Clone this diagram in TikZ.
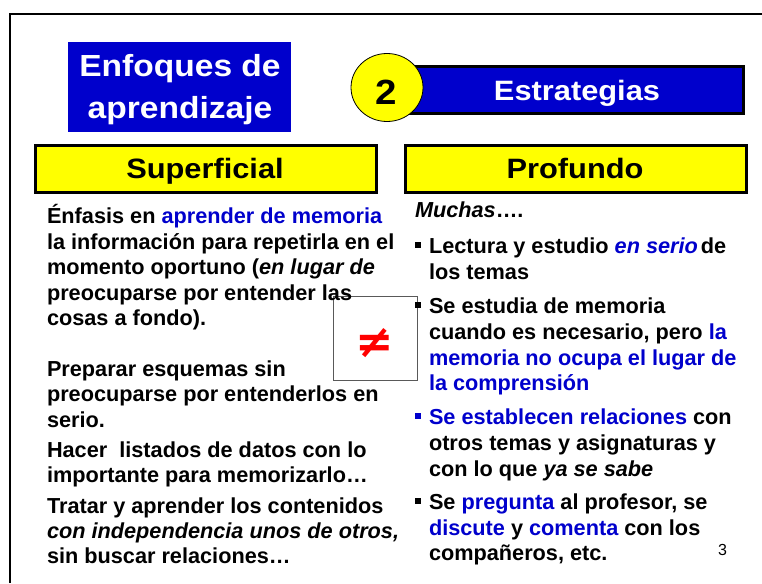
\documentclass[tikz,border=0pt]{standalone}
\usepackage{fontspec}
\setmainfont{Liberation Sans}
\newfontfamily\widefont[FakeStretch=1.1]{Liberation Sans}
\newfontfamily\symfont{DejaVu Sans}
\usetikzlibrary{shapes.geometric}
\definecolor{hlblue}{RGB}{0,0,204}
\definecolor{boxblue}{RGB}{0,0,204}
\definecolor{ylw}{RGB}{255,255,0}
\definecolor{neqred}{RGB}{255,0,0}
\newcommand{\hlb}[1]{\textcolor{hlblue}{#1}}
\begin{document}
\begin{tikzpicture}[x=1pt,y=-1pt,
  bodyline/.style={anchor=base west, inner sep=0pt, outer sep=0pt,
    font=\fontsize{21.7}{25}\selectfont\bfseries},
  titletext/.style={anchor=base, inner sep=0pt, outer sep=0pt, text=white,
    font=\widefont\fontsize{30.5}{38}\selectfont\bfseries},
  headbox/.style={draw=black, line width=3pt, fill=ylw, inner sep=0pt,
    minimum width=341pt, minimum height=47pt},
  headtext/.style={anchor=base, inner sep=0pt, font=\widefont\fontsize{28}{32}\selectfont\bfseries},
  bulletsq/.style={fill=black}
]
\useasboundingbox (0,0) rectangle (762,583);
% slide frame
\draw[line width=2pt] (10,583) -- (10,14) -- (762,14);

% title box
\node[fill=boxblue, inner sep=0pt, minimum width=223pt, minimum height=90pt] (enfbox) at (179.5,87) {};
\node[titletext] (enf1) at (180,77) {Enfoques de};
\node[titletext] (enf2) at (180,118) {aprendizaje};

% Estrategias
\node[draw=black, line width=3pt, fill=boxblue, inner sep=0pt,
  minimum width=334pt, minimum height=47pt] (estbox) at (576,90) {};
\node[titletext, font=\widefont\fontsize{28}{32}\selectfont\bfseries] (est) at (577,100) {Estrategias};
\node[ellipse, draw=black, line width=0.8pt, fill=ylw, inner sep=0pt,
  minimum width=72pt, minimum height=68pt] (circ) at (387,87.5) {};
\node[anchor=base, inner sep=0pt, font=\widefont\fontsize{35}{40}\selectfont\bfseries] (two) at (386.5,105) {2};

% heading boxes
\node[headbox] (supbox) at (205.5,168.5) {};
\node[headtext] (sup) at (205,178) {Superficial};
\node[headbox] (probox) at (575.5,168.5) {};
\node[headtext] (pro) at (575,178) {Profundo};

% not-equal box
\node[draw=black!65, line width=1pt, fill=white, inner sep=0pt,
  minimum width=84pt, minimum height=84pt] (neqbox) at (375,338) {};
\node[inner sep=0pt, text=neqred, font=\symfont\bfseries\fontsize{46}{50}\selectfont] (neq) at (375,343) {≠};

% left column
\node[bodyline] (l1) at (47,223) {Énfasis en \hlb{aprender de memoria}};
\node[bodyline] (l2) at (47,249) {la información para repetirla en el};
\node[bodyline] (l3) at (47,274) {momento oportuno (\textit{en lugar de}};
\node[bodyline] (l4) at (47,300) {preocuparse por entender las};
\node[bodyline] (l5) at (47,325) {cosas a fondo).};
\node[bodyline] (l6) at (47,376) {Preparar esquemas sin};
\node[bodyline] (l7) at (47,401) {preocuparse por entenderlos en};
\node[bodyline] (l8) at (47,427) {serio.};
\node[bodyline] (l9) at (47,457) {Hacer\ \ listados de datos con lo};
\node[bodyline] (l10) at (47,482) {importante para memorizarlo…};
\node[bodyline] (l11) at (47,513) {Tratar y aprender los contenidos};
\node[bodyline] (l12) at (47,538) {\textit{con independencia unos de otros,}};
\node[bodyline] (l13) at (47,563) {sin buscar relaciones…};

% right column
\node[bodyline] (r0) at (415,217) {\textit{Muchas}….};
\fill[bulletsq] (415,242) rectangle +(5.5,5.5);
\node[bodyline] (r1) at (429,253) {Lectura y estudio \textit{\hlb{en serio}}\hspace{3pt}de};
\node[bodyline] (r2) at (429,279) {los temas};
\fill[bulletsq] (415,302) rectangle +(5.5,5.5);
\node[bodyline] (r3) at (429,313) {Se estudia de memoria};
\node[bodyline] (r4) at (429,339) {cuando es necesario, pero \hlb{la}};
\node[bodyline] (r5) at (429,365) {\hlb{memoria no ocupa el lugar de}};
\node[bodyline] (r6) at (429,390) {\hlb{la comprensión}};
\fill[bulletsq, fill=hlblue] (415,413) rectangle +(5.5,5.5);
\node[bodyline] (r7) at (429,424) {\hlb{Se establecen relaciones} con};
\node[bodyline] (r8) at (429,450) {otros temas y asignaturas y};
\node[bodyline] (r9) at (429,476) {con lo que \textit{ya se sabe}};
\fill[bulletsq] (415,498) rectangle +(5.5,5.5);
\node[bodyline] (r10) at (429,509) {Se \hlb{pregunta} al profesor, se};
\node[bodyline] (r11) at (429,535) {\hlb{discute} y \hlb{comenta} con los};
\node[bodyline] (r12) at (429,560) {compañeros, etc.};

% page number
\node[anchor=base west, inner sep=0pt, font=\fontsize{16}{18}\selectfont] (pg) at (718,555) {3};
\end{tikzpicture}
\end{document}
